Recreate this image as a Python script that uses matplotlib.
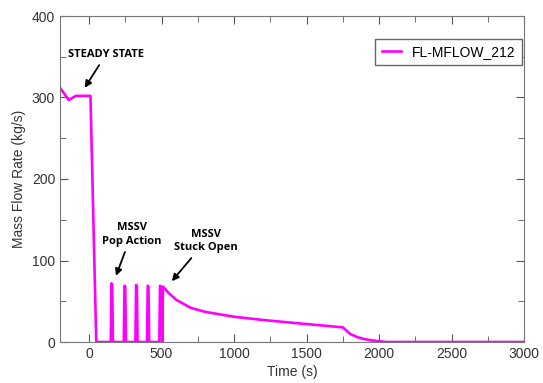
import matplotlib
matplotlib.use('Agg')
import matplotlib.pyplot as plt
from matplotlib.ticker import MultipleLocator

plt.rcParams['font.family'] = ['Liberation Sans', 'DejaVu Sans']

# mass flow
time = [-200, -140, -90, 10, 50,
        150, 155, 160, 165, 240, 245, 250, 255, 320, 325, 330, 335,
        400, 405, 410, 415, 485, 490, 500, 505, 510,
        550, 600, 700, 800, 1000, 1200, 1500, 1750, 1770, 1800, 1850,
        1900, 1950, 2050, 3000]
flow = [312, 297, 302, 302, 0,
        0, 72, 70, 0, 0, 69, 68, 0, 0, 70, 69, 0,
        0, 69, 68, 0, 0, 69, 67, 0, 68,
        60, 52, 42, 37, 31, 27, 22, 18, 15, 10, 6,
        3.5, 2, 0, 0]

fig = plt.figure(figsize=(5.43, 3.83), dpi=100)
ax = fig.add_axes([60/543, 1-342/383, 464/543, 326/383])
ax.plot(time, flow, color='#ff00ff', lw=1.9, label='FL-MFLOW_212')

ax.set_xlim(-200, 3000)
ax.set_ylim(0, 400)
ax.xaxis.set_major_locator(MultipleLocator(500))
ax.xaxis.set_minor_locator(MultipleLocator(250))
ax.yaxis.set_major_locator(MultipleLocator(100))
ax.yaxis.set_minor_locator(MultipleLocator(50))
ax.tick_params(which='both', direction='in', top=True, right=True,
               color='#555555', labelsize=10, labelcolor='#333333')
ax.tick_params(which='major', length=6)
ax.tick_params(which='minor', length=4)
for s in ax.spines.values():
    s.set_color('#777777')

ax.set_xlabel('Time (s)', fontsize=10, color='#333333', labelpad=3)
ax.set_ylabel('Mass Flow Rate (kg/s)', fontsize=10, color='#333333')

leg = ax.legend(loc='upper right', bbox_to_anchor=(0.996, 0.93), fontsize=10,
                fancybox=False, framealpha=1, handlelength=1.4,
                borderaxespad=0, borderpad=0.45)
leg.get_frame().set_edgecolor('#666666')

akw = dict(fontsize=8, fontweight='bold', family=['Open Sans', 'DejaVu Sans'],
           ha='center', va='bottom', linespacing=1.3,
           arrowprops=dict(arrowstyle='-|>', color='black', lw=1.3, mutation_scale=10))
ax.annotate('STEADY STATE', xy=(-40, 309), xytext=(117, 346), **akw)
ax.annotate('MSSV\nPop Action', xy=(179, 78), xytext=(294, 117), **akw)
ax.annotate('MSSV\nStuck Open', xy=(559, 72), xytext=(805, 109), **akw)

plt.savefig('out.png', format='png')
plt.close()
